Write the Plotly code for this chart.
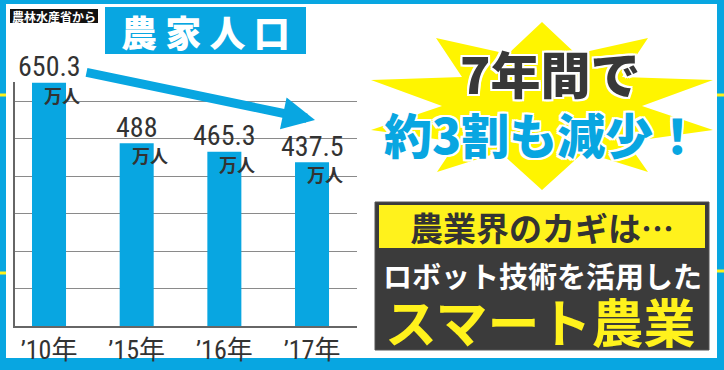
import plotly.graph_objects as go

# ---- data ----
years = ["’10年", "’15年", "’16年", "’17年"]
population = [650.3, 488, 465.3, 437.5]
value_labels = ["650.3", "488", "465.3", "437.5"]
unit_label = "万人"

W, H = 724, 370
BLUE = "#08a6e1"
YELLOW = "#fff21c"
NARROW = "Liberation Sans Narrow, Roboto Condensed, DejaVu Sans Condensed, sans-serif"
CJK = "Noto Sans CJK JP, sans-serif"


def px(x):
    return x / W


def py(y):
    return 1 - y / H


xs = list(range(len(years)))

fig = go.Figure()
fig.add_trace(go.Bar(
    x=xs, y=population, width=0.388,
    marker=dict(color=BLUE, line=dict(width=0)),
    hoverinfo="skip",
))

shapes = []
# white panel
shapes.append(dict(type="rect", xref="paper", yref="paper", x0=px(6), x1=px(717),
                   y0=py(358), y1=py(4), fillcolor="white", line=dict(width=0), layer="below"))
# yellow stubs on the frame
for (xa, xb, yy) in [(0, 6, 95), (0, 6, 273), (717, 724, 95), (717, 724, 271)]:
    shapes.append(dict(type="rect", xref="paper", yref="paper", x0=px(xa), x1=px(xb),
                       y0=py(yy + 1.5), y1=py(yy - 1.5), fillcolor=YELLOW,
                       line=dict(width=0), layer="below"))
# starburst
star = [(542, 22), (576, 54), (648, 38), (622, 77), (713, 80), (642, 106), (713, 130),
        (627, 142), (648, 172), (584, 152), (542, 190), (500, 152), (437, 172), (457, 142),
        (371, 130), (442, 106), (371, 80), (462, 77), (436, 38), (508, 54)]
path = "M " + " L ".join(f"{px(a):.5f},{py(b):.5f}" for a, b in star) + " Z"
shapes.append(dict(type="path", xref="paper", yref="paper", path=path,
                   fillcolor="#fff500", line=dict(width=0), layer="below"))
# dark box + yellow band
shapes.append(dict(type="rect", xref="paper", yref="paper", x0=px(375), x1=px(709),
                   y0=py(350), y1=py(202), fillcolor="#3b3b3b",
                   line=dict(color="#555555", width=1), layer="below"))
shapes.append(dict(type="rect", xref="paper", yref="paper", x0=px(379), x1=px(705),
                   y0=py(248), y1=py(205), fillcolor=YELLOW, line=dict(width=0), layer="below"))
# title box
shapes.append(dict(type="rect", xref="paper", yref="paper", x0=px(105), x1=px(306),
                   y0=py(54), y1=py(7), fillcolor=BLUE, line=dict(width=0), layer="below"))
# source box
shapes.append(dict(type="rect", xref="paper", yref="paper", x0=px(10), x1=px(98),
                   y0=py(23), y1=py(9), fillcolor="#111111", line=dict(width=0), layer="below"))

ann = []
# value labels and units, positioned from the data
for i, (v, lab) in enumerate(zip(population, value_labels)):
    ann.append(dict(x=i, y=v, xref="x", yref="y", text=lab, showarrow=False,
                    yanchor="middle", xanchor="center", yshift=16,
                    font=dict(family=NARROW, size=28, color="#333333")))
    ann.append(dict(x=i, y=v, xref="x", yref="y", text=unit_label, showarrow=False,
                    yanchor="middle", xanchor="center", yshift=-12, xshift=13,
                    font=dict(family=CJK, size=18, color="#333333", weight="bold")))

# big arrow
ann.append(dict(x=px(315), y=py(120), xref="paper", yref="paper",
                ax=-230, ay=-48, axref="pixel", ayref="pixel", text="",
                showarrow=True, arrowhead=2, arrowsize=0.72, arrowwidth=9,
                arrowcolor=BLUE, standoff=0))

# title
ann.append(dict(x=px(205.5), y=py(31), xref="paper", yref="paper", text="農 家 人 口",
                showarrow=False, xanchor="center", yanchor="middle",
                font=dict(family=CJK, size=36, color="white", weight=900)))
ann.append(dict(x=px(54), y=py(16), xref="paper", yref="paper", text="農林水産省から",
                showarrow=False, xanchor="center", yanchor="middle",
                font=dict(family=CJK, size=12, color="white", weight="bold")))

outline = ", ".join(f"{a}px {b}px 0 #ffffff" for a, b in
                    [(-2, -2), (2, -2), (-2, 2), (2, 2), (0, 2), (2, 0), (-2, 0), (0, -2)])
ann.append(dict(x=px(550), y=py(72), xref="paper", yref="paper", text="7年間で",
                showarrow=False, xanchor="center", yanchor="middle",
                font=dict(family=CJK, size=50, color="#383838", weight=900, shadow=outline)))
ann.append(dict(x=px(542), y=py(133), xref="paper", yref="paper", text="約3割も減少！",
                showarrow=False, xanchor="center", yanchor="middle",
                font=dict(family=CJK, size=48, color=BLUE, weight=900, shadow=outline)))

ann.append(dict(x=px(542), y=py(227), xref="paper", yref="paper", text="農業界のカギは…",
                showarrow=False, xanchor="center", yanchor="middle",
                font=dict(family=CJK, size=33, color="#333333", weight="bold")))
ann.append(dict(x=px(542), y=py(275), xref="paper", yref="paper", text="ロボット技術を活用した",
                showarrow=False, xanchor="center", yanchor="middle",
                font=dict(family=CJK, size=29, color="white", weight="bold")))
ann.append(dict(x=px(540), y=py(320), xref="paper", yref="paper", text="スマート農業",
                showarrow=False, xanchor="center", yanchor="middle",
                font=dict(family=CJK, size=52, color=YELLOW, weight="bold")))

fig.update_layout(
    width=W, height=H, autosize=False,
    margin=dict(l=0, r=0, t=0, b=0, pad=0),
    paper_bgcolor=BLUE, plot_bgcolor="rgba(0,0,0,0)",
    showlegend=False, shapes=shapes, annotations=ann,
    xaxis=dict(domain=[px(15), px(357)], range=[-0.388, 3.513],
               tickvals=xs, ticktext=years, showgrid=False, zeroline=False,
               showline=True, linecolor="#666666", linewidth=1.5, ticks="",
               tickfont=dict(family=NARROW + ", " + CJK, size=26, color="#333333"),
               fixedrange=True),
    yaxis=dict(domain=[py(326), py(82)], range=[0, 652], dtick=100,
               showgrid=True, gridcolor="#8a8a8a", gridwidth=1, zeroline=False,
               showline=True, linecolor="#666666", linewidth=1.5,
               showticklabels=False, ticks="", fixedrange=True),
)

fig.write_html("out.html")
